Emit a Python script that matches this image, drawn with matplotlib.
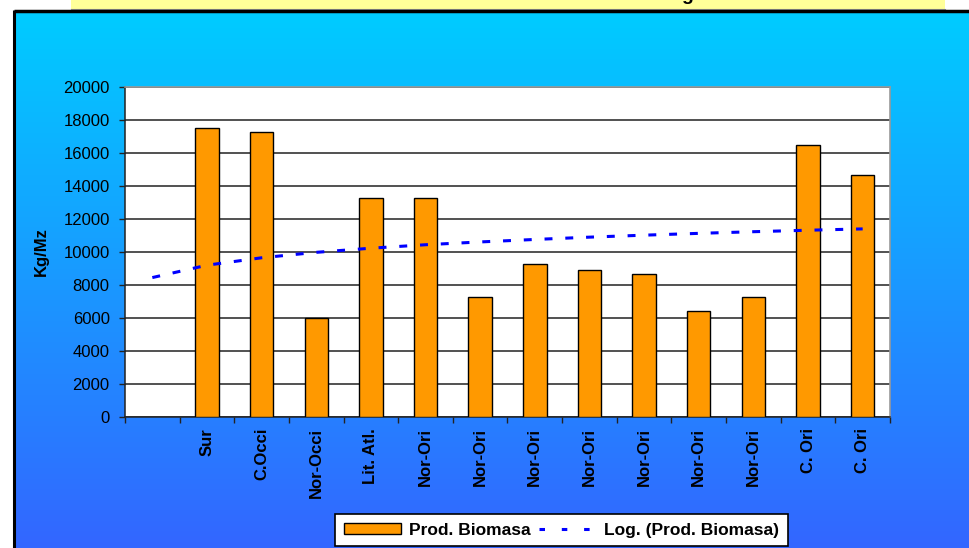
import numpy as np
import matplotlib
matplotlib.use("Agg")
import matplotlib.pyplot as plt
from matplotlib.patches import Rectangle, Patch
from matplotlib.lines import Line2D

plt.rcParams["font.family"] = ["Liberation Sans", "DejaVu Sans"]

# Datos
categorias = ["", "Sur", "C.Occi", "Nor-Occi", "Lit. Atl.", "Nor-Ori", "Nor-Ori",
              "Nor-Ori", "Nor-Ori", "Nor-Ori", "Nor-Ori", "Nor-Ori", "C. Ori", "C. Ori"]
biomasa = [np.nan, 17500, 17300, 6000, 13300, 13300, 7300, 9300, 8900, 8650,
           6400, 7300, 16500, 14650]
tendencia_log = [8450, 9200, 9650, 9980, 10230, 10440, 10610, 10760, 10900,
                 11020, 11130, 11230, 11320, 11400]
y_ticks = [0, 2000, 4000, 6000, 8000, 10000, 12000, 14000, 16000, 18000, 20000]

W, H = 970, 548
fig = plt.figure(figsize=(W / 100, H / 100), dpi=100, facecolor="white")

# Fondo: degradado cian -> azul, marco negro, banda amarilla del titulo
bg = fig.add_axes([0, 0, 1, 1], zorder=-1)
bg.set_xlim(0, W)
bg.set_ylim(H, 0)
bg.axis("off")
top_c = np.array([0, 204, 255]) / 255
bot_c = np.array([51, 102, 255]) / 255
t = np.linspace(0, 1, 256)[:, None]
grad = (top_c[None, :] * (1 - t) + bot_c[None, :] * t)[:, None, :]
bg.imshow(grad, extent=(14, W, H, 11), aspect="auto", interpolation="bilinear")
bg.add_patch(Rectangle((71, 0), 874, 8.5, facecolor="#FFFF99", edgecolor="none"))
bg.plot([71, 945], [8.5, 8.5], color="#999999", lw=0.8)
bg.plot([14, W], [10.5, 10.5], color="black", lw=2.5, solid_capstyle="butt")
bg.plot([14, 14], [10, H], color="black", lw=2.2, solid_capstyle="butt")
fig.text(687 / W, 1 + 0.5 / H, "g", ha="center", va="baseline",
         fontsize=14, fontweight="bold", color="black")

# Grafico principal
ax = fig.add_axes([125 / W, 1 - 417 / H, 765 / W, 330 / H])
ax.set_facecolor("white")
x = np.arange(len(categorias))
ax.bar(x, biomasa, width=0.43, color="#FF9900", edgecolor="black",
       linewidth=1, zorder=3)
ax.plot(x, tendencia_log, color="#0000FF", lw=2.2, dashes=(2.6, 4.2), zorder=4)

ax.set_xlim(-0.5, len(categorias) - 0.5)
ax.set_ylim(0, 20000)
ax.set_yticks(y_ticks)
ax.set_yticklabels([str(v) for v in y_ticks], fontsize=12)
ax.yaxis.grid(True, color="#222222", lw=1.1, zorder=1)
ax.set_axisbelow(True)

ax.set_xticks(np.arange(len(categorias) + 1) - 0.5)
ax.set_xticklabels([])
ax.set_xticks(x, minor=True)
ax.set_xticklabels(categorias, minor=True, rotation=90, fontsize=12,
                   fontweight="bold", va="top")
ax.tick_params(axis="x", which="major", direction="out", length=4, width=1,
               color="#222222")
ax.tick_params(axis="x", which="minor", length=0, pad=8)
ax.tick_params(axis="y", direction="out", length=4, width=1, pad=7,
               color="#222222")

ax.set_ylabel("Kg/Mz", fontsize=12, fontweight="bold")
ax.yaxis.set_label_coords(-0.100, 0.5)

for lado in ["top", "right"]:
    ax.spines[lado].set_color("#999999")
    ax.spines[lado].set_linewidth(1.2)
for lado in ["left", "bottom"]:
    ax.spines[lado].set_color("#222222")
    ax.spines[lado].set_linewidth(1.1)

# Leyenda
handles = [
    Patch(facecolor="#FF9900", edgecolor="black", linewidth=1),
    Line2D([0], [0], color="#0000FF", lw=2.2, dashes=(1.8, 5.5)),
]
leg = fig.legend(handles, ["Prod. Biomasa", "Log. (Prod. Biomasa)"],
                 loc="upper center", bbox_to_anchor=((332 + 791) / 2 / W, 1 - 514 / H),
                 ncol=2, frameon=True, fancybox=False,
                 prop={"weight": "bold", "size": 12.5}, handlelength=3.3,
                 handleheight=0.6, handletextpad=0.45, columnspacing=0.5,
                 borderpad=0.5, borderaxespad=0)
leg.get_frame().set_edgecolor("black")
leg.get_frame().set_linewidth(1.2)
leg.get_frame().set_facecolor("white")
leg.get_frame().set_alpha(1)

fig.savefig("out.png", dpi=100, facecolor="white")
